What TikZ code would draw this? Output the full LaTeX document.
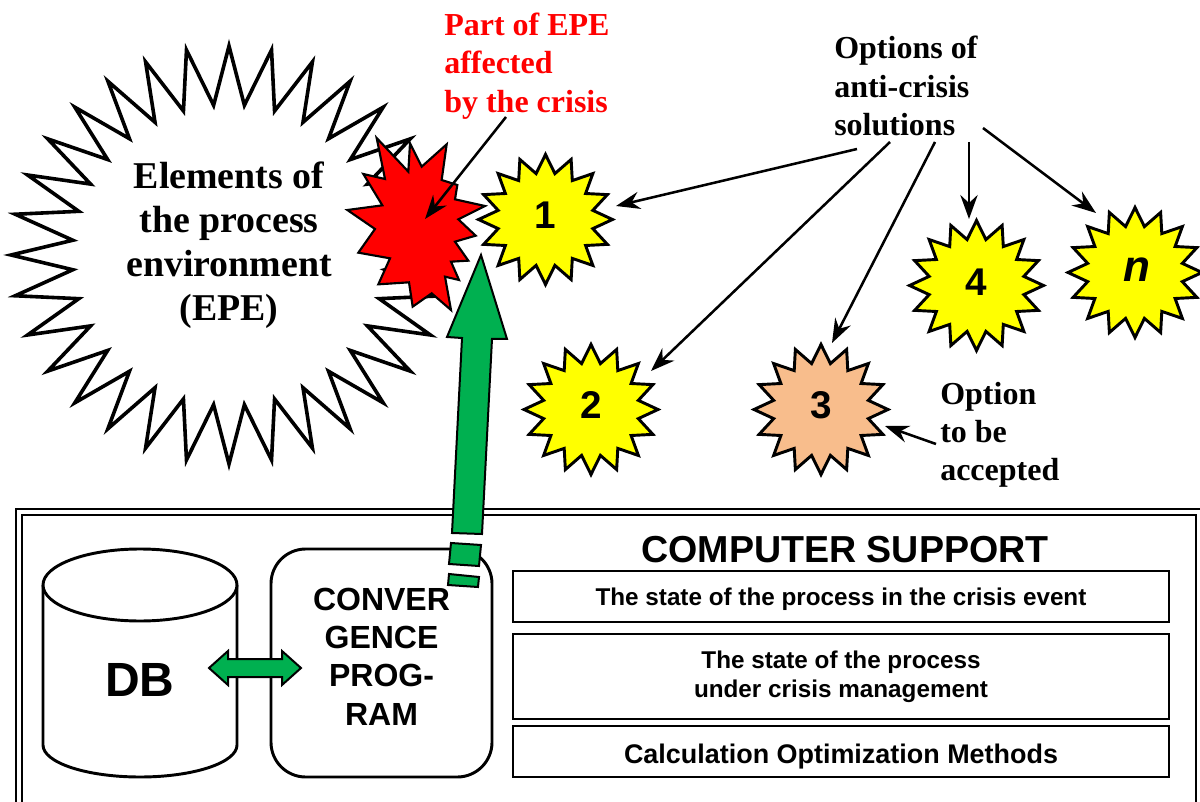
\documentclass[tikz,border=0pt]{standalone}
\usepackage{fontspec}
\setmainfont{Liberation Serif}
\setsansfont{Liberation Sans}
\usetikzlibrary{arrows.meta}
\definecolor{grn}{HTML}{00B050}
\definecolor{peach}{HTML}{F8BD8C}
\definecolor{yel}{HTML}{FFFF00}
\definecolor{rd}{HTML}{FF0000}
\newcommand{\burst}[7]{% cx cy rx ry halfpoints lastindex style
  \draw[#7] plot[samples at={0,...,#6},variable=\k]
    ({#1+#3*(mod(\k,2)==0?1:0.72)*sin(\k*180/#5)},{#2-#4*(mod(\k,2)==0?1:0.72)*cos(\k*180/#5)}) -- cycle;}
\tikzset{
  x=0.75pt,y=-0.75pt,
  bigstar/.style={draw=black,fill=white,line width=2.7pt,line join=miter,miter limit=20},
  smallstar/.style={draw=black,line width=2.2pt,line join=miter,miter limit=20},
  serifb/.style={font=\fontsize{24pt}{28.7pt}\selectfont\bfseries,align=left,inner sep=0pt},
  numlabel/.style={font=\fontsize{29pt}{30pt}\selectfont\sffamily\bfseries,inner sep=0pt},
  conn/.style={line width=1.9pt,-{Stealth[length=18pt,width=13pt,inset=6pt]}},
  infobox/.style={draw=black,line width=1.5pt,minimum width=492pt,inner sep=0pt,
    font=\fontsize{18.2pt}{21.8pt}\selectfont\sffamily\bfseries,align=center},
  grnshape/.style={draw=black,fill=grn,line width=1.5pt,line join=miter}
}
\begin{document}
\begin{tikzpicture}
\useasboundingbox (0,0) rectangle (1200,802);
\clip (0,0) rectangle (1200,802);
\fill[white] (0,0) rectangle (1200,802);

% frame
\draw[line width=2.2pt] (16,509) rectangle (1201,815);
\draw[line width=1.5pt] (22,515) rectangle (1196,815);

% big star
\burst{229}{255}{218}{209}{32}{63}{bigstar}
\node[font=\fontsize{28.4pt}{33pt}\selectfont\bfseries,align=center,inner sep=0pt] (epe) at (229,245) {Elements of\\the process\\environment\\(EPE)};

% red star
\begin{scope}[shift={(340,130)},x=0.25pt,y=-0.25pt]
\draw[fill=rd,draw=black,line width=1.6pt,line join=miter]
 (110,24)--(205,125)--(210,40)--(245,110)--(320,43)--(305,150)--(352,165)--(345,208)--(435,228)--(355,268)--(407,317)--(345,335)--(385,392)--(333,395)--(357,450)--(315,440)--(333,540)--(275,490)--(218,530)--(207,457)--(115,463)--(150,385)--(55,368)--(105,297)--(22,240)--(127,226)--(70,132)--(135,147)--cycle;
\end{scope}

% option stars
\burst{545.5}{219.5}{67}{65}{16}{31}{smallstar,fill=yel}
\burst{591}{409.5}{67}{65}{16}{31}{smallstar,fill=yel}
\burst{821}{409.5}{67}{65}{16}{31}{smallstar,fill=peach}
\burst{976.5}{285.5}{67}{65}{16}{31}{smallstar,fill=yel}
\burst{1135}{272.5}{67}{65}{16}{31}{smallstar,fill=yel}
\node[numlabel] (n1) at (545,215) {1};
\node[numlabel] (n2) at (591,405) {2};
\node[numlabel] (n3) at (821,405) {3};
\node[numlabel] (n4) at (976,282) {4};
\node[numlabel,font=\fontsize{33pt}{34pt}\selectfont\sffamily\bfseries\itshape] (nn) at (1137,270) {n};

% labels
\node[serifb,text=rd,anchor=west] (part) at (444,66) {Part of EPE\\affected\\by the crisis};
\node[serifb,anchor=west] (opts) at (834,86) {Options of\\anti-crisis\\solutions};
\node[serifb,anchor=west] (acc) at (940,435) {Option\\to be\\accepted};

% connector ends
\coordinate (a0) at (506,117); \coordinate (a1) at (425,219);
\coordinate (b0) at (857,149); \coordinate (b1) at (616,206);
\coordinate (c0) at (890,142); \coordinate (c1) at (651,371);
\coordinate (d0) at (935,142); \coordinate (d1) at (832,343);
\coordinate (e0) at (969,142); \coordinate (e1) at (969,219);
\coordinate (f0) at (983,128); \coordinate (f1) at (1096,213);
\coordinate (g0) at (936,444); \coordinate (g1) at (885,426);
\foreach \s/\t in {a0/a1,b0/b1,c0/c1,d0/d1,e0/e1,f0/f1,g0/g1}
  \draw[conn] (\s) -- (\t);

% computer support
\node[font=\fontsize{28.2pt}{30pt}\selectfont\sffamily\bfseries,inner sep=0pt] (title) at (845,549.5) {COMPUTER SUPPORT};
\node[infobox,minimum height=38.25pt] (s1) at (841,596.5) {\rule{0pt}{17.5pt}The state of the process in the crisis event};
\node[infobox,minimum height=63.75pt] (s2) at (841,676.5) {The state of the process\\under crisis management};
\node[infobox,minimum height=38.25pt,font=\fontsize{20.2pt}{24pt}\selectfont\sffamily\bfseries] (s3) at (841,751) {\rule{0pt}{22.2pt}Calculation Optimization Methods};

% DB cylinder
\draw[line width=2.2pt,fill=white] (43,585) -- (43,745) arc[start angle=180,end angle=360,x radius=72.75pt,y radius=24pt] -- (237,585);
\draw[line width=2.2pt,fill=white] (140,585) ellipse[x radius=72.75pt,y radius=27pt];
\node[font=\fontsize{36pt}{38pt}\selectfont\sffamily\bfseries,inner sep=0pt] (db) at (140,680) {DB};

% convergence program
\node[draw=black,line width=2.2pt,rounded corners=26pt,minimum width=165.75pt,minimum height=171pt,inner sep=0pt] (prog) at (381.5,663) {};
\node[font=\fontsize{24pt}{28.8pt}\selectfont\sffamily\bfseries,align=center,inner sep=0pt] (progt) at (381.5,656.5) {CONVER\\GENCE\\PROG-\\RAM};

% double arrow
\draw[grnshape] (209,668)--(228,651)--(228,659)--(282,659)--(282,651)--(301,668)--(282,685)--(282,677)--(228,677)--(228,685)--cycle;

% big green arrow
\draw[grnshape] (481,255)--(507,339)--(492,339)--(482,534)--(452,533)--(462,338)--(447,337)--cycle;
\draw[grnshape] (451,543)--(481,545)--(479,566)--(449,564)--cycle;
\draw[grnshape] (449,574)--(479,577)--(478,587)--(448,585)--cycle;
\end{tikzpicture}
\end{document}
